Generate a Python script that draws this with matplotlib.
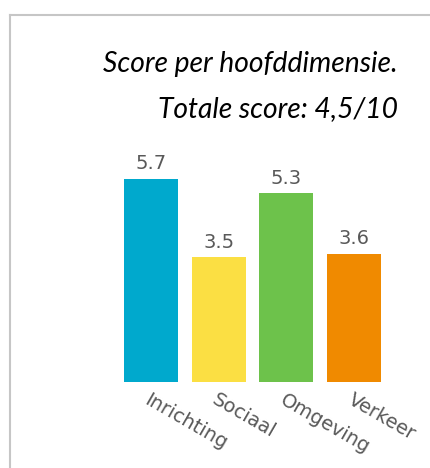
import matplotlib
matplotlib.use("Agg")
import matplotlib.pyplot as plt
from matplotlib.lines import Line2D

# data
categories = ["Inrichting", "Sociaal", "Omgeving", "Verkeer"]
scores = [5.7, 3.5, 5.3, 3.6]
colors = ["#00a9cd", "#fbdf43", "#6dc24b", "#f08a00"]
title_1 = "Score per hoofddimensie."
title_2 = "Totale score: 4,5/10"

W, H = 430, 468
fig = plt.figure(figsize=(W / 100, H / 100), dpi=100)

# grijze rand links en boven
fig.add_artist(Line2D([9.5 / W, 9.5 / W], [0, 1 - 14.5 / H], color="#c6c6c6", lw=1.5))
fig.add_artist(Line2D([9.5 / W, 1], [1 - 14.5 / H, 1 - 14.5 / H], color="#c6c6c6", lw=1.5))

# titel rechts uitgelijnd, cursief
fig.text(398 / W, 1 - 72 / H, title_1, ha="right", va="baseline",
         fontsize=20.3, style="italic", family="Lato", color="black")
fig.text(398 / W, 1 - 117 / H, title_2, ha="right", va="baseline",
         fontsize=20.3, style="italic", family="Lato", color="black")

ax = fig.add_axes([117 / W, 1 - 382 / H, 271 / W, 213.6 / H])
x = range(len(categories))
bars = ax.bar(x, scores, width=0.8, color=colors)
ax.set_xlim(-0.5, len(categories) - 0.5)
ax.set_ylim(0, 6)

for b, v in zip(bars, scores):
    ax.annotate(f"{v:.1f}", (b.get_x() + b.get_width() / 2, v),
                xytext=(0, 7), textcoords="offset points",
                ha="center", va="baseline", fontsize=14, color="#595959")

ax.set_xticks(list(x))
ax.set_xticklabels(categories, rotation=-30, ha="left", rotation_mode="anchor",
                   fontsize=14, color="#595959")
ax.tick_params(axis="x", length=0, pad=6)
ax.set_yticks([])
for s in ax.spines.values():
    s.set_visible(False)

fig.savefig("out.png", dpi=100)
